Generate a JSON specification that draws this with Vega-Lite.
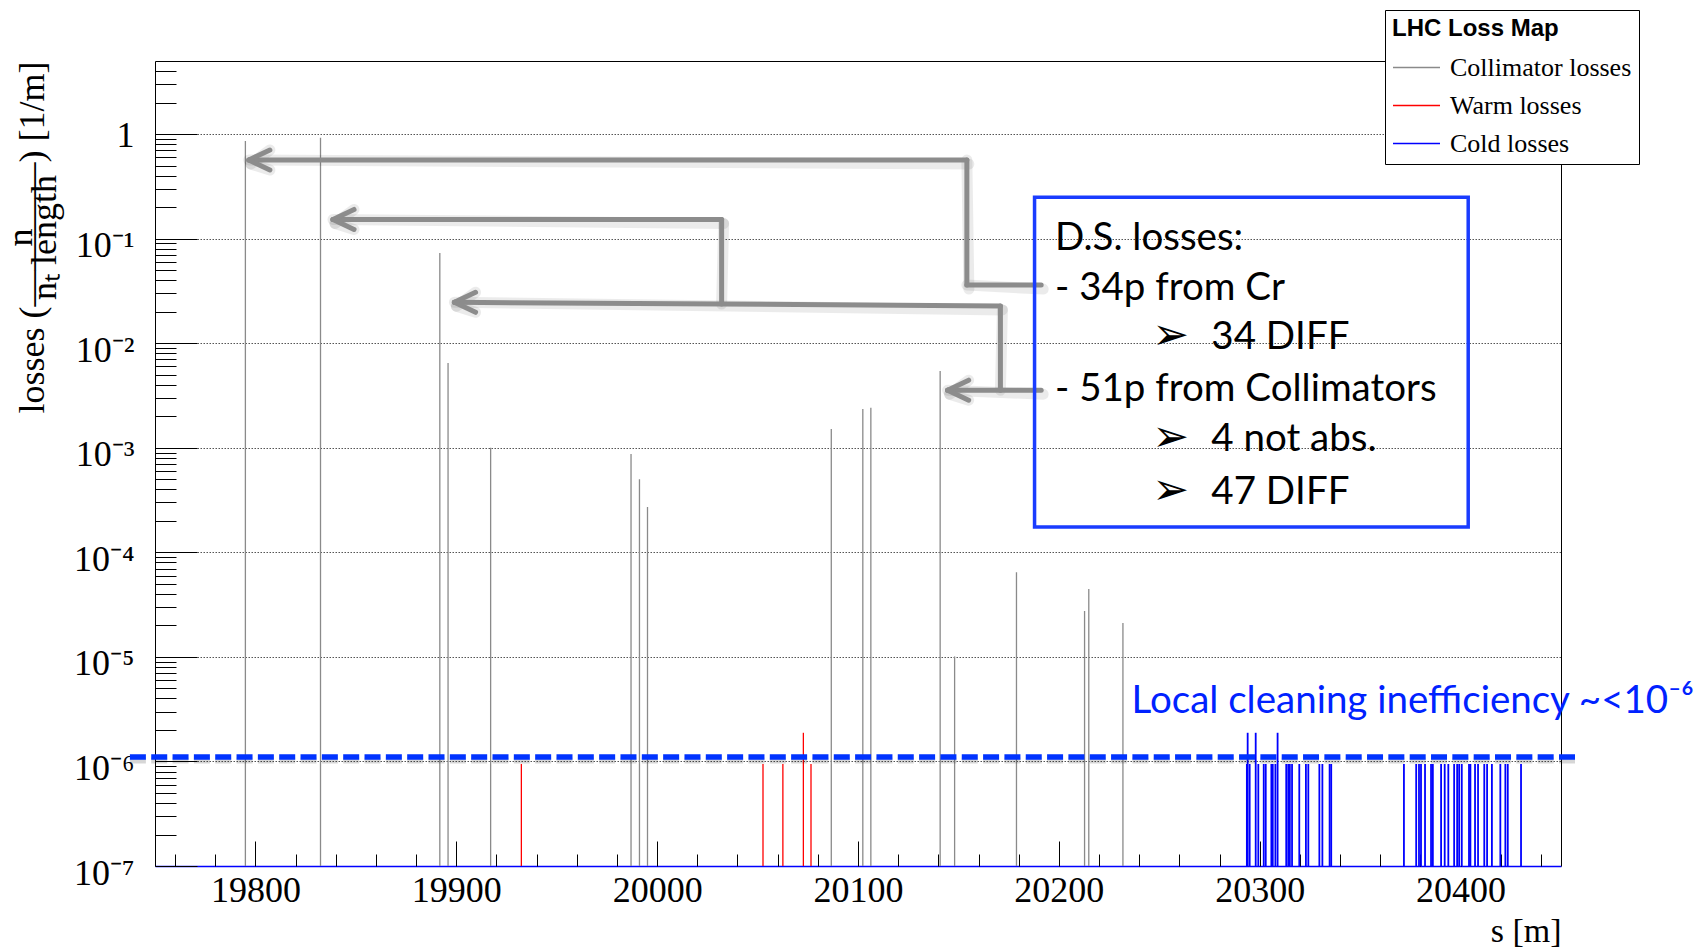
{
  "$schema": "https://vega.github.io/schema/vega-lite/v6.json",
  "width": 1406,
  "height": 805,
  "autosize": {"type": "none"},
  "padding": {"left": 155, "top": 61, "right": 140, "bottom": 83},
  "background": "white",
  "config": {
    "view": {"stroke": null},
    "axis": {
      "labelFont": "Liberation Serif",
      "titleFont": "Liberation Serif",
      "labelColor": "#000",
      "titleColor": "#000",
      "tickColor": "#000",
      "domainColor": "#000",
      "titleFontWeight": "normal"
    }
  },
  "datasets": {
    "losses": [
      {"type": "Collimator losses", "s": 19795.0, "loss": 0.859},
      {"type": "Collimator losses", "s": 19832.4, "loss": 0.924},
      {"type": "Collimator losses", "s": 19891.8, "loss": 0.0729},
      {"type": "Collimator losses", "s": 19895.9, "loss": 0.00647},
      {"type": "Collimator losses", "s": 19917.1, "loss": 0.001},
      {"type": "Collimator losses", "s": 19987.0, "loss": 0.000872},
      {"type": "Collimator losses", "s": 19991.2, "loss": 0.000499},
      {"type": "Collimator losses", "s": 19995.2, "loss": 0.000271},
      {"type": "Collimator losses", "s": 20086.7, "loss": 0.00151},
      {"type": "Collimator losses", "s": 20102.4, "loss": 0.00235},
      {"type": "Collimator losses", "s": 20106.4, "loss": 0.00242},
      {"type": "Collimator losses", "s": 20140.9, "loss": 0.00542},
      {"type": "Collimator losses", "s": 20148.1, "loss": 0.0000101},
      {"type": "Collimator losses", "s": 20178.9, "loss": 0.0000644},
      {"type": "Collimator losses", "s": 20212.8, "loss": 0.0000275},
      {"type": "Collimator losses", "s": 20214.9, "loss": 0.0000446},
      {"type": "Collimator losses", "s": 20231.9, "loss": 0.0000211},
      {"type": "Warm losses", "s": 19932.4, "loss": 9.45e-7},
      {"type": "Warm losses", "s": 20052.7, "loss": 9.45e-7},
      {"type": "Warm losses", "s": 20062.6, "loss": 9.45e-7},
      {"type": "Warm losses", "s": 20072.8, "loss": 1.88e-6},
      {"type": "Warm losses", "s": 20076.6, "loss": 9.45e-7},
      {"type": "Cold losses", "s": 20293.6, "loss": 9.45e-7},
      {"type": "Cold losses", "s": 20294.0, "loss": 1.88e-6},
      {"type": "Cold losses", "s": 20295.0, "loss": 9.45e-7},
      {"type": "Cold losses", "s": 20298.0, "loss": 1.88e-6},
      {"type": "Cold losses", "s": 20299.3, "loss": 9.45e-7},
      {"type": "Cold losses", "s": 20302.0, "loss": 9.45e-7},
      {"type": "Cold losses", "s": 20303.0, "loss": 9.45e-7},
      {"type": "Cold losses", "s": 20305.8, "loss": 9.45e-7},
      {"type": "Cold losses", "s": 20306.5, "loss": 9.45e-7},
      {"type": "Cold losses", "s": 20307.8, "loss": 9.45e-7},
      {"type": "Cold losses", "s": 20308.9, "loss": 1.88e-6},
      {"type": "Cold losses", "s": 20313.2, "loss": 9.45e-7},
      {"type": "Cold losses", "s": 20314.2, "loss": 9.45e-7},
      {"type": "Cold losses", "s": 20315.0, "loss": 9.45e-7},
      {"type": "Cold losses", "s": 20316.1, "loss": 9.45e-7},
      {"type": "Cold losses", "s": 20319.7, "loss": 9.45e-7},
      {"type": "Cold losses", "s": 20323.0, "loss": 9.45e-7},
      {"type": "Cold losses", "s": 20324.2, "loss": 9.45e-7},
      {"type": "Cold losses", "s": 20329.7, "loss": 9.45e-7},
      {"type": "Cold losses", "s": 20331.2, "loss": 9.45e-7},
      {"type": "Cold losses", "s": 20334.8, "loss": 9.45e-7},
      {"type": "Cold losses", "s": 20335.6, "loss": 9.45e-7},
      {"type": "Cold losses", "s": 20371.8, "loss": 9.45e-7},
      {"type": "Cold losses", "s": 20377.9, "loss": 9.45e-7},
      {"type": "Cold losses", "s": 20379.3, "loss": 9.45e-7},
      {"type": "Cold losses", "s": 20380.3, "loss": 9.45e-7},
      {"type": "Cold losses", "s": 20382.3, "loss": 9.45e-7},
      {"type": "Cold losses", "s": 20385.3, "loss": 9.45e-7},
      {"type": "Cold losses", "s": 20386.2, "loss": 9.45e-7},
      {"type": "Cold losses", "s": 20390.3, "loss": 9.45e-7},
      {"type": "Cold losses", "s": 20392.1, "loss": 9.45e-7},
      {"type": "Cold losses", "s": 20393.9, "loss": 9.45e-7},
      {"type": "Cold losses", "s": 20396.8, "loss": 9.45e-7},
      {"type": "Cold losses", "s": 20398.3, "loss": 9.45e-7},
      {"type": "Cold losses", "s": 20399.3, "loss": 9.45e-7},
      {"type": "Cold losses", "s": 20400.6, "loss": 9.45e-7},
      {"type": "Cold losses", "s": 20404.2, "loss": 9.45e-7},
      {"type": "Cold losses", "s": 20404.9, "loss": 9.45e-7},
      {"type": "Cold losses", "s": 20407.2, "loss": 9.45e-7},
      {"type": "Cold losses", "s": 20408.7, "loss": 9.45e-7},
      {"type": "Cold losses", "s": 20411.8, "loss": 9.45e-7},
      {"type": "Cold losses", "s": 20413.2, "loss": 9.45e-7},
      {"type": "Cold losses", "s": 20415.6, "loss": 9.45e-7},
      {"type": "Cold losses", "s": 20419.8, "loss": 9.45e-7},
      {"type": "Cold losses", "s": 20422.3, "loss": 9.45e-7},
      {"type": "Cold losses", "s": 20423.5, "loss": 9.45e-7},
      {"type": "Cold losses", "s": 20430.1, "loss": 9.45e-7}
    ],
    "threshold": [
      {"s": 19737.5, "s2": 20457.6, "level": 1.103e-6}
    ],
    "arrows": [
      {"s": 20191.2, "v": 0.03594, "s2": 20154.2, "v2": 0.03594},
      {"s": 20154.2, "v": 0.03594, "s2": 20154.2, "v2": 0.5652},
      {"s": 20154.2, "v": 0.5652, "s2": 19796.7, "v2": 0.5652},
      {"s": 19796.7, "v": 0.5652, "s2": 19807.2, "v2": 0.7044},
      {"s": 19796.7, "v": 0.5652, "s2": 19807.2, "v2": 0.4533},
      {"s": 20032.1, "v": 0.1524, "s2": 19838.6, "v2": 0.1524},
      {"s": 20032.1, "v": 0.1524, "s2": 20032.1, "v2": 0.02366},
      {"s": 19838.6, "v": 0.1524, "s2": 19849.1, "v2": 0.1901},
      {"s": 19838.6, "v": 0.1524, "s2": 19849.1, "v2": 0.1224},
      {"s": 20170.9, "v": 0.02274, "s2": 19899.05, "v2": 0.02461},
      {"s": 20170.9, "v": 0.02274, "s2": 20170.9, "v2": 0.003553},
      {"s": 19899.05, "v": 0.02461, "s2": 19909.6, "v2": 0.03069},
      {"s": 19899.05, "v": 0.02461, "s2": 19909.6, "v2": 0.01975},
      {"s": 20191.2, "v": 0.003553, "s2": 20144.6, "v2": 0.003553},
      {"s": 20144.6, "v": 0.003553, "s2": 20155.1, "v2": 0.004428},
      {"s": 20144.6, "v": 0.003553, "s2": 20155.1, "v2": 0.00285}
    ],
    "box": [
      {"s": 20187.9, "s2": 20403.8, "v": 0.2485, "v2": 0.000175}
    ],
    "boxText": [
      {"s": 20198.1, "v": 0.0784, "text": "D.S. losses:"},
      {"s": 20198.1, "v": 0.02613, "text": "- 34p from Cr"},
      {"s": 20275.9, "v": 0.008708, "text": "34 DIFF"},
      {"s": 20198.1, "v": 0.002789, "text": "- 51p from Collimators"},
      {"s": 20275.9, "v": 0.000929, "text": "4 not abs."},
      {"s": 20275.9, "v": 0.0002868, "text": "47 DIFF"}
    ],
    "bullets": [
      {"s": 20246.5, "v": 0.008708, "text": "➢"},
      {"s": 20246.5, "v": 0.000929, "text": "➢"},
      {"s": 20246.5, "v": 0.0002868, "text": "➢"}
    ],
    "note": [
      {"s": 20236.2, "v": 2.925e-6, "text": "Local cleaning inefficiency ~<10⁻⁶"}
    ]
  },
  "resolve": {"axis": {"x": "independent", "y": "independent"}},
  "layer": [
    {
      "data": {"name": "losses"},
      "mark": {"type": "rule"},
      "encoding": {
        "x": {
          "field": "s", "type": "quantitative",
          "scale": {"domain": [19750, 20450], "nice": false, "zero": false},
          "axis": {
            "orient": "bottom",
            "values": [19800, 19900, 20000, 20100, 20200, 20300, 20400],
            "format": "d",
            "ticks": false, "grid": false,
            "labelFontSize": 36, "labelPadding": 7,
            "labelFlush": false, "labelOverlap": false,
            "domainColor": "#0000ff", "domainWidth": 1.5,
            "title": "s [m]", "titleFontSize": 34,
            "titleAlign": "right", "titleAnchor": "end",
            "titleX": 1406, "titleY": 75, "titleBaseline": "alphabetic"
          }
        },
        "y": {
          "field": "loss", "type": "quantitative",
          "scale": {"type": "log", "domain": [1e-7, 5], "nice": false},
          "axis": {
            "orient": "left",
            "values": [1e-7, 1e-6, 1e-5, 1e-4, 1e-3, 1e-2, 1e-1, 1],
            "labelExpr": "datum.value > 0.5 ? '1' : '10' + ['', '⁻¹', '⁻²', '⁻³', '⁻⁴', '⁻⁵', '⁻⁶', '⁻⁷'][round(-log(datum.value) / LN10)]",
            "ticks": false,
            "grid": true, "gridDash": [1.5, 1.5], "gridColor": "#555", "gridWidth": 1,
            "labelFontSize": 36, "labelPadding": 21, "labelBaseline": "middle",
            "labelOffset": {"condition": {"test": "datum.value > 0.5", "value": 1}, "value": 7},
            "labelFlush": false, "labelOverlap": false,
            "domainColor": "#000", "domainWidth": 1,
            "title": ["n", "losses (————) [1/m]", "", "nₜ length"],
            "titleFontSize": 36, "titleAngle": -90,
            "titleX": -135, "titleY": 176,
            "titleAlign": "center", "titleBaseline": "middle",
            "titleLineHeight": 12
          }
        },
        "y2": {"datum": 1e-7},
        "strokeWidth": {"condition": {"test": "datum.type === 'Cold losses'", "value": 1.8}, "value": 1.3},
        "color": {
          "field": "type", "type": "nominal",
          "scale": {
            "domain": ["Collimator losses", "Warm losses", "Cold losses"],
            "range": ["#8a8a8a", "#ff0000", "#0000ff"]
          },
          "legend": {
            "orient": "none", "legendX": 1230, "legendY": -51,
            "title": "LHC Loss Map",
            "titleFont": "Liberation Sans", "titleFontWeight": "bold",
            "titleFontSize": 24, "titleColor": "#000", "titlePadding": 2,
            "labelFont": "Liberation Serif", "labelFontSize": 26, "labelColor": "#000",
            "labelOffset": 9, "labelLimit": 400,
            "symbolType": "stroke", "symbolSize": 2209, "symbolStrokeWidth": 1.5,
            "rowPadding": 0,
            "strokeColor": "#000", "fillColor": "white",
            "padding": 7, "zindex": 1
          }
        }
      }
    },
    {
      "data": {"name": "threshold"},
      "mark": {"type": "rule", "color": "#000", "opacity": 0.16, "strokeWidth": 6, "strokeDash": [16, 5.33], "yOffset": 3.5, "clip": false},
      "encoding": {
        "x": {
          "field": "s", "type": "quantitative",
          "scale": {"domain": [19750, 20450], "nice": false, "zero": false},
          "axis": {
            "orient": "bottom",
            "values": [19760, 19780, 19820, 19840, 19860, 19880, 19920, 19940, 19960, 19980, 20020, 20040, 20060, 20080, 20120, 20140, 20160, 20180, 20220, 20240, 20260, 20280, 20320, 20340, 20360, 20380, 20420, 20440],
            "labels": false, "domain": false, "grid": false,
            "ticks": true, "tickSize": -12, "tickWidth": 1, "title": null
          }
        },
        "x2": {"field": "s2"},
        "y": {
          "field": "level", "type": "quantitative",
          "scale": {"type": "log", "domain": [1e-7, 5], "nice": false},
          "axis": {
            "orient": "left",
            "values": [2e-7, 3e-7, 4e-7, 5e-7, 6e-7, 7e-7, 8e-7, 9e-7,
                       2e-6, 3e-6, 4e-6, 5e-6, 6e-6, 7e-6, 8e-6, 9e-6,
                       2e-5, 3e-5, 4e-5, 5e-5, 6e-5, 7e-5, 8e-5, 9e-5,
                       2e-4, 3e-4, 4e-4, 5e-4, 6e-4, 7e-4, 8e-4, 9e-4,
                       2e-3, 3e-3, 4e-3, 5e-3, 6e-3, 7e-3, 8e-3, 9e-3,
                       2e-2, 3e-2, 4e-2, 5e-2, 6e-2, 7e-2, 8e-2, 9e-2,
                       0.2, 0.3, 0.4, 0.5, 0.6, 0.7, 0.8, 0.9, 2, 3, 4],
            "labels": false, "domain": false, "grid": false,
            "ticks": true, "tickSize": -21, "tickWidth": 1, "title": null
          }
        }
      }
    },
    {
      "data": {"name": "threshold"},
      "mark": {"type": "rule", "color": "#0033ff", "strokeWidth": 5.3, "strokeDash": [16, 5.33], "clip": false},
      "encoding": {
        "x": {
          "field": "s", "type": "quantitative",
          "scale": {"domain": [19750, 20450], "nice": false, "zero": false},
          "axis": {
            "orient": "bottom",
            "values": [19800, 19900, 20000, 20100, 20200, 20300, 20400],
            "labels": false, "domain": false, "grid": false,
            "ticks": true, "tickSize": -25, "tickWidth": 1, "title": null
          }
        },
        "x2": {"field": "s2"},
        "y": {
          "field": "level", "type": "quantitative",
          "scale": {"type": "log", "domain": [1e-7, 5], "nice": false},
          "axis": {
            "orient": "left",
            "values": [1e-7, 1e-6, 1e-5, 1e-4, 1e-3, 1e-2, 1e-1, 1],
            "labels": false, "domain": false, "grid": false,
            "ticks": true, "tickSize": -42, "tickWidth": 1, "title": null
          }
        }
      }
    },
    {
      "data": {"name": "arrows"},
      "mark": {"type": "rule", "color": "#000", "opacity": 0.08, "strokeWidth": 11, "strokeCap": "round", "xOffset": 2, "yOffset": 4},
      "encoding": {
        "x": {
          "field": "s", "type": "quantitative",
          "scale": {"domain": [19750, 20450], "nice": false, "zero": false},
          "axis": {"orient": "top", "labels": false, "ticks": false, "grid": false, "domain": true, "domainColor": "#000", "domainWidth": 1, "title": null}
        },
        "x2": {"field": "s2"},
        "y": {
          "field": "v", "type": "quantitative",
          "scale": {"type": "log", "domain": [1e-7, 5], "nice": false},
          "axis": {"orient": "right", "labels": false, "ticks": false, "grid": false, "domain": true, "domainColor": "#000", "domainWidth": 1, "title": null}
        },
        "y2": {"field": "v2"}
      }
    },
    {
      "data": {"name": "arrows"},
      "mark": {"type": "rule", "color": "#8c8c8c", "strokeWidth": 5, "strokeCap": "round"},
      "encoding": {
        "x": {"field": "s", "type": "quantitative", "scale": {"domain": [19750, 20450], "nice": false, "zero": false}, "axis": null},
        "x2": {"field": "s2"},
        "y": {"field": "v", "type": "quantitative", "scale": {"type": "log", "domain": [1e-7, 5], "nice": false}, "axis": null},
        "y2": {"field": "v2"}
      }
    },
    {
      "data": {"name": "box"},
      "mark": {"type": "rect", "fill": null, "fillOpacity": 0, "stroke": "#1a3cff", "strokeWidth": 3.5},
      "encoding": {
        "x": {"field": "s", "type": "quantitative", "scale": {"domain": [19750, 20450], "nice": false, "zero": false}, "axis": null},
        "x2": {"field": "s2"},
        "y": {"field": "v", "type": "quantitative", "scale": {"type": "log", "domain": [1e-7, 5], "nice": false}, "axis": null},
        "y2": {"field": "v2"}
      }
    },
    {
      "data": {"name": "boxText"},
      "mark": {"type": "text", "font": "Lato", "fontSize": 38.5, "color": "#000", "align": "left", "baseline": "alphabetic", "clip": false},
      "encoding": {
        "x": {"field": "s", "type": "quantitative", "scale": {"domain": [19750, 20450], "nice": false, "zero": false}, "axis": null},
        "y": {"field": "v", "type": "quantitative", "scale": {"type": "log", "domain": [1e-7, 5], "nice": false}, "axis": null},
        "text": {"field": "text"}
      }
    },
    {
      "data": {"name": "bullets"},
      "mark": {"type": "text", "font": "DejaVu Sans", "fontSize": 44, "color": "#000", "align": "left", "baseline": "alphabetic", "clip": false},
      "encoding": {
        "x": {"field": "s", "type": "quantitative", "scale": {"domain": [19750, 20450], "nice": false, "zero": false}, "axis": null},
        "y": {"field": "v", "type": "quantitative", "scale": {"type": "log", "domain": [1e-7, 5], "nice": false}, "axis": null},
        "text": {"field": "text"}
      }
    },
    {
      "data": {"name": "note"},
      "mark": {"type": "text", "font": "Lato", "fontSize": 38.5, "color": "#0022ff", "align": "left", "baseline": "alphabetic", "clip": false},
      "encoding": {
        "x": {"field": "s", "type": "quantitative", "scale": {"domain": [19750, 20450], "nice": false, "zero": false}, "axis": null},
        "y": {"field": "v", "type": "quantitative", "scale": {"type": "log", "domain": [1e-7, 5], "nice": false}, "axis": null},
        "text": {"field": "text"}
      }
    }
  ]
}
